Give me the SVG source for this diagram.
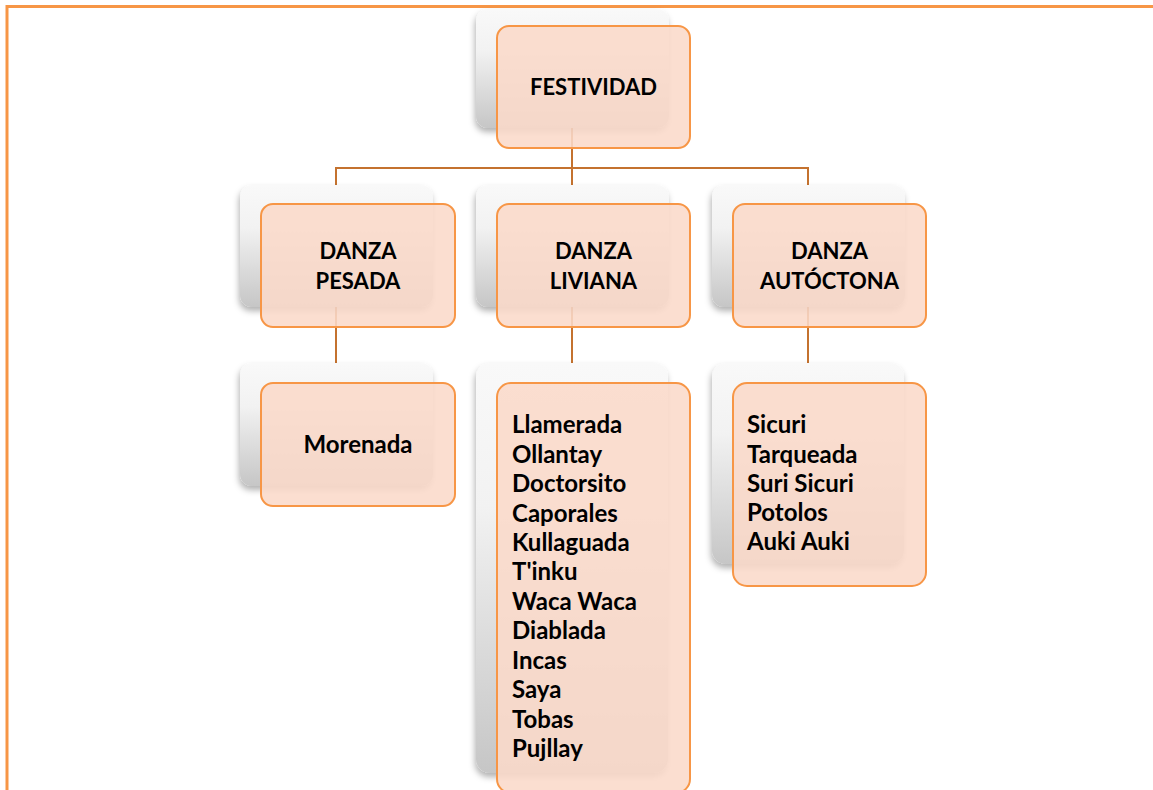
<svg xmlns="http://www.w3.org/2000/svg" width="1153" height="790" viewBox="0 0 1153 790">
<defs>
<linearGradient id="bg" x1="0" y1="0" x2="0" y2="1">
<stop offset="0" stop-color="#F9F9F9"/>
<stop offset="0.35" stop-color="#F2F2F2"/>
<stop offset="1" stop-color="#C6C6C6"/>
</linearGradient>
<filter id="sh" x="-10%" y="-10%" width="125%" height="125%">
<feDropShadow dx="-1" dy="4" stdDeviation="3" flood-color="#000" flood-opacity="0.3"/>
</filter>
<style>
.back{fill:url(#bg);filter:url(#sh);}
.front{fill:#FADACA;fill-opacity:0.88;stroke:#F79646;stroke-width:2;}
.t{font-family:Lato,"Liberation Sans",sans-serif;font-weight:bold;font-size:24px;fill:#000;}
.h{font-size:22px;}
.c{text-anchor:middle;}
.con{stroke:#C4722F;stroke-width:2;fill:none;}
.frame{stroke:#F79646;stroke-width:3;fill:none;}
</style>
</defs>
<rect width="1153" height="790" fill="#fff"/>
<path class="frame" d="M7,790 V6.5 H1153"/>
<g id="connectors">
<path class="con" d="M572,128 V168 M336,185 V168 H808 V185 M572,168 V185"/>
<path class="con" d="M336,307 V363"/>
<path class="con" d="M572,307 V363"/>
<path class="con" d="M808,307 V363"/>
</g>
<g id="festividad">
<rect class="back" x="476" y="9" width="193" height="119" rx="12"/>
<rect class="front" x="497" y="26" width="193" height="122" rx="12"/>
<text class="t h c" x="593.5" y="95">FESTIVIDAD</text>
</g>
<g id="danza-pesada">
<rect class="back" x="240" y="185" width="193" height="122" rx="12"/>
<rect class="front" x="261" y="204" width="194" height="123" rx="12"/>
<text class="t h c" x="358" y="259">DANZA</text>
<text class="t h c" x="358" y="289">PESADA</text>
</g>
<g id="danza-liviana">
<rect class="back" x="476" y="185" width="193" height="122" rx="12"/>
<rect class="front" x="497" y="204" width="193" height="123" rx="12"/>
<text class="t h c" x="593.5" y="259">DANZA</text>
<text class="t h c" x="593.5" y="289">LIVIANA</text>
</g>
<g id="danza-autoctona">
<rect class="back" x="712" y="185" width="193" height="122" rx="12"/>
<rect class="front" x="733" y="204" width="193" height="123" rx="12"/>
<text class="t h c" x="829.5" y="259">DANZA</text>
<text class="t h c" x="829.5" y="289">AUTÓCTONA</text>
</g>
<g id="morenada">
<rect class="back" x="240" y="363" width="193" height="123" rx="12"/>
<rect class="front" x="261" y="383" width="194" height="123" rx="12"/>
<text class="t c" x="358" y="453">Morenada</text>
</g>
<g id="liviana-list">
<rect class="back" x="476" y="363" width="192" height="410" rx="14"/>
<rect class="front" x="497" y="383" width="193" height="410" rx="14"/>
<text class="t" x="512" y="433">Llamerada</text>
<text class="t" x="512" y="462.5">Ollantay</text>
<text class="t" x="512" y="492">Doctorsito</text>
<text class="t" x="512" y="521.5">Caporales</text>
<text class="t" x="512" y="551">Kullaguada</text>
<text class="t" x="512" y="580">T'inku</text>
<text class="t" x="512" y="609.5">Waca Waca</text>
<text class="t" x="512" y="639">Diablada</text>
<text class="t" x="512" y="668.5">Incas</text>
<text class="t" x="512" y="698">Saya</text>
<text class="t" x="512" y="727.5">Tobas</text>
<text class="t" x="512" y="757">Pujllay</text>
</g>
<g id="autoctona-list">
<rect class="back" x="712" y="363" width="192" height="201" rx="14"/>
<rect class="front" x="733" y="383" width="193" height="203" rx="14"/>
<text class="t" x="747" y="433">Sicuri</text>
<text class="t" x="747" y="462.5">Tarqueada</text>
<text class="t" x="747" y="492">Suri Sicuri</text>
<text class="t" x="747" y="521">Potolos</text>
<text class="t" x="747" y="550">Auki Auki</text>
</g>
</svg>
